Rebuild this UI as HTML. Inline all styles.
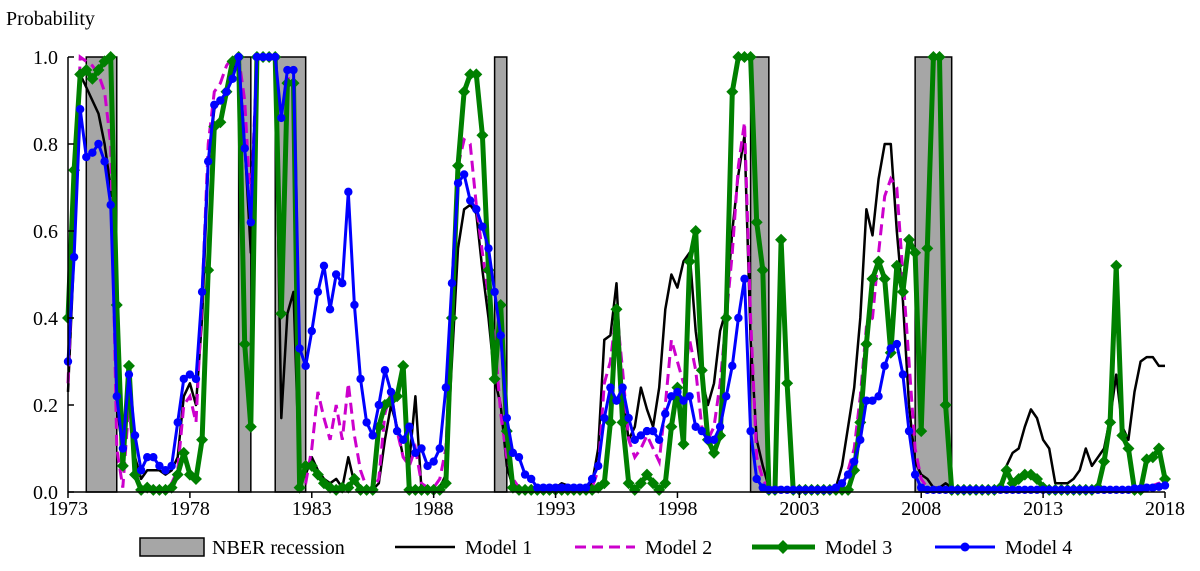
<!DOCTYPE html>
<html><head><meta charset="utf-8">
<style>
body{margin:0;background:#fff;}
svg text{font-family:"Liberation Serif",serif;fill:#000;}
</style></head>
<body>
<svg id="chart" width="1200" height="566" viewBox="0 0 1200 566" xmlns="http://www.w3.org/2000/svg">
<text x="6" y="25" font-size="20">Probability</text>
<g id="bars"></g><g id="grid"></g><g id="series"></g><g id="axes"></g>
<g id="legend">
  <rect x="140" y="538" width="64" height="18" fill="#a6a6a6" stroke="#000" stroke-width="1.5"/>
  <text x="212" y="554" font-size="20">NBER recession</text>
  <line x1="395" y1="547" x2="455" y2="547" stroke="#000" stroke-width="2.5"/>
  <text x="465" y="554" font-size="20">Model 1</text>
  <line x1="575" y1="547" x2="635" y2="547" stroke="#cc00cc" stroke-width="3" stroke-dasharray="11,6"/>
  <text x="645" y="554" font-size="20">Model 2</text>
  <line x1="752" y1="547" x2="815" y2="547" stroke="#008000" stroke-width="5"/>
  <polygon points="783,540 790,547 783,554 776,547" fill="#008000"/>
  <text x="825" y="554" font-size="20">Model 3</text>
  <line x1="935" y1="547" x2="995" y2="547" stroke="#0000ff" stroke-width="3"/>
  <circle cx="965" cy="547" r="4.5" fill="#0000ff"/>
  <text x="1005" y="554" font-size="20">Model 4</text>
</g>
</svg>
<script>
const startYear = 1973;
const xTickLabels = ["1973","1978","1983","1988","1993","1998","2003","2008","2013","2018"];
const yTickLabels = ["0.0","0.2","0.4","0.6","0.8","1.0"];
const recessionStarts = [1973.75,1980.0,1981.5,1990.5,2001.0,2007.75];
const recessionEnds   = [1975.0,1980.5,1982.75,1991.0,2001.75,2009.25];
const model1 = [
0.23,0.55,0.96,0.93, 0.90,0.87,0.80,0.70, 0.20,0.09,0.22,0.08, 0.03,0.05,0.05,0.05,
0.04,0.05,0.08,0.22, 0.25,0.20,0.40,0.75, 0.88,0.90,0.92,0.96, 1.0,0.80,0.55,1.0,
1.0,1.0,1.0,0.17, 0.41,0.46,0.03,0.04, 0.08,0.05,0.03,0.02, 0.03,0.01,0.08,0.02,
0.005,0.005,0.005,0.02, 0.12,0.20,0.15,0.08, 0.07,0.22,0.005,0.005, 0.005,0.01,0.04,0.30,
0.56,0.65,0.66,0.64, 0.51,0.40,0.26,0.20, 0.06,0.01,0.005,0.005, 0.005,0.005,0.005,0.005,
0.01,0.02,0.015,0.01, 0.01,0.01,0.02,0.10, 0.35,0.36,0.48,0.22, 0.12,0.15,0.24,0.19,
0.15,0.24,0.42,0.50, 0.47,0.53,0.55,0.37, 0.26,0.20,0.25,0.37, 0.42,0.60,0.73,0.82,
0.35,0.12,0.06,0.01, 0.01,0.01,0.005,0.005, 0.005,0.005,0.005,0.005, 0.005,0.005,0.01,0.06,
0.15,0.24,0.40,0.65, 0.59,0.72,0.80,0.80, 0.60,0.44,0.20,0.07, 0.04,0.03,0.01,0.01,
0.02,0.01,0.005,0.005, 0.005,0.005,0.01,0.005, 0.005,0.01,0.06,0.09, 0.10,0.15,0.19,0.17,
0.12,0.10,0.02,0.02, 0.02,0.03,0.05,0.10, 0.06,0.08,0.10,0.17, 0.27,0.15,0.12,0.23,
0.30,0.31,0.31,0.29, 0.29];
const model2 = [
0.25,0.60,1.0,0.99, 0.98,0.96,0.92,0.80, 0.10,0.01,0.20,0.05, 0.005,0.01,0.01,0.01,
0.005,0.02,0.05,0.20, 0.22,0.16,0.45,0.80, 0.92,0.94,0.98,1.0, 1.0,0.90,0.65,1.0,
1.0,1.0,1.0,0.50, 0.95,0.95,0.02,0.02, 0.10,0.23,0.17,0.12, 0.20,0.12,0.25,0.13,
0.05,0.01,0.005,0.03, 0.18,0.23,0.14,0.08, 0.06,0.10,0.02,0.01, 0.01,0.03,0.10,0.40,
0.75,0.81,0.80,0.66, 0.55,0.45,0.35,0.18, 0.08,0.03,0.01,0.005, 0.005,0.005,0.005,0.005,
0.005,0.005,0.005,0.005, 0.005,0.005,0.01,0.05, 0.25,0.30,0.42,0.28, 0.12,0.08,0.10,0.13,
0.10,0.07,0.20,0.35, 0.30,0.25,0.35,0.28, 0.15,0.12,0.15,0.25, 0.40,0.55,0.75,0.85,
0.40,0.08,0.03,0.005, 0.005,0.005,0.005,0.005, 0.005,0.005,0.005,0.005, 0.005,0.005,0.005,0.01,
0.05,0.10,0.22,0.38, 0.40,0.55,0.68,0.72, 0.70,0.50,0.30,0.10, 0.03,0.01,0.005,0.005,
0.005,0.005,0.005,0.005, 0.005,0.005,0.005,0.005, 0.005,0.005,0.005,0.005, 0.005,0.005,0.005,0.005,
0.005,0.005,0.005,0.005, 0.005,0.005,0.005,0.005, 0.005,0.005,0.005,0.005, 0.005,0.005,0.005,0.01,
0.01,0.01,0.015,0.02, 0.02];
const model3 = [
0.40,0.74,0.96,0.97, 0.95,0.97,0.99,1.0, 0.43,0.06,0.29,0.04, 0.005,0.01,0.005,0.005,
0.005,0.01,0.04,0.09, 0.04,0.03,0.12,0.51, 0.84,0.85,0.92,0.99, 1.0,0.34,0.15,1.0,
1.0,1.0,1.0,0.41, 0.94,0.94,0.01,0.06, 0.06,0.04,0.02,0.01, 0.005,0.01,0.01,0.03,
0.005,0.005,0.005,0.15, 0.20,0.21,0.22,0.29, 0.005,0.005,0.005,0.005, 0.005,0.005,0.02,0.40,
0.75,0.92,0.96,0.96, 0.82,0.51,0.26,0.43, 0.14,0.01,0.005,0.005, 0.005,0.005,0.005,0.005,
0.005,0.005,0.005,0.005, 0.005,0.005,0.005,0.01, 0.02,0.16,0.42,0.16, 0.02,0.005,0.02,0.04,
0.02,0.005,0.02,0.15, 0.24,0.11,0.53,0.60, 0.28,0.12,0.09,0.13, 0.40,0.92,1.0,1.0,
1.0,0.62,0.51,0.005, 0.005,0.58,0.25,0.005, 0.005,0.005,0.005,0.005, 0.005,0.005,0.005,0.005,
0.005,0.05,0.16,0.34, 0.49,0.53,0.49,0.32, 0.52,0.46,0.58,0.55, 0.14,0.56,1.0,1.0,
0.20,0.005,0.005,0.005, 0.005,0.005,0.005,0.005, 0.005,0.01,0.05,0.02, 0.03,0.04,0.04,0.03,
0.01,0.005,0.005,0.005, 0.005,0.005,0.005,0.005, 0.005,0.01,0.07,0.16, 0.52,0.13,0.10,0.005,
0.005,0.075,0.08,0.10, 0.03];
const model4 = [
0.30,0.54,0.88,0.77, 0.78,0.80,0.76,0.66, 0.22,0.10,0.27,0.13, 0.05,0.08,0.08,0.06,
0.05,0.06,0.16,0.26, 0.27,0.26,0.46,0.76, 0.89,0.90,0.92,0.95, 1.0,0.79,0.62,1.0,
1.0,1.0,1.0,0.86, 0.97,0.97,0.33,0.29, 0.37,0.46,0.52,0.42, 0.50,0.48,0.69,0.43,
0.26,0.16,0.13,0.20, 0.28,0.23,0.14,0.12, 0.15,0.09,0.10,0.06, 0.07,0.10,0.24,0.48,
0.71,0.73,0.67,0.65, 0.61,0.56,0.46,0.36, 0.17,0.09,0.08,0.04, 0.03,0.01,0.01,0.01,
0.01,0.01,0.01,0.01, 0.01,0.01,0.03,0.06, 0.17,0.24,0.21,0.24, 0.17,0.12,0.13,0.14,
0.14,0.12,0.18,0.22, 0.23,0.21,0.22,0.15, 0.14,0.12,0.12,0.15, 0.22,0.29,0.40,0.49,
0.14,0.03,0.01,0.005, 0.005,0.005,0.005,0.005, 0.005,0.005,0.005,0.005, 0.005,0.005,0.01,0.02,
0.04,0.07,0.12,0.21, 0.21,0.22,0.29,0.33, 0.34,0.27,0.14,0.04, 0.01,0.005,0.005,0.005,
0.005,0.005,0.005,0.005, 0.005,0.005,0.005,0.005, 0.005,0.005,0.005,0.005, 0.005,0.005,0.005,0.005,
0.005,0.005,0.005,0.005, 0.005,0.005,0.005,0.005, 0.005,0.005,0.005,0.005, 0.005,0.005,0.005,0.008,
0.008,0.01,0.01,0.012, 0.015];

const NS = "http://www.w3.org/2000/svg";
const X0 = 68, X1 = 1165, Y0 = 492, Y1 = 57;
function xScale(t){ return X0 + (t - 1973) / 45 * (X1 - X0); }
function yScale(v){ return Y0 - v * (Y0 - Y1); }
function mk(tag, attrs, parent){ const e = document.createElementNS(NS, tag); for (const k in attrs) e.setAttribute(k, attrs[k]); parent.appendChild(e); return e; }

const bars = document.getElementById('bars');
recessionStarts.forEach((s, i) => {
  const r = mk('rect', {x: xScale(s), y: Y1, width: xScale(recessionEnds[i]) - xScale(s), height: Y0 - Y1, fill: '#a6a6a6', stroke: '#000', 'stroke-width': 1.5}, bars);
  
  
});

const axes = document.getElementById('axes');
const yAxis = mk('line', {x1: X0, y1: Y1, x2: X0, y2: Y0, stroke: '#000', 'stroke-width': 1.5}, axes);


const xAxis = mk('line', {x1: X0, y1: Y0, x2: X1, y2: Y0, stroke: '#000', 'stroke-width': 1.5}, axes);


yTickLabels.forEach(lab => {
  const y = yScale(parseFloat(lab));
  const tk = mk('line', {x1: X0, y1: y, x2: X0 + 6, y2: y, stroke: '#000', 'stroke-width': 1.5}, axes);
  
  
  const t = mk('text', {x: 58, y: y + 7, 'font-size': 20, 'text-anchor': 'end'}, axes);
  t.textContent = lab;
  
  
});
xTickLabels.forEach(lab => {
  const x = xScale(parseFloat(lab));
  const tk = mk('line', {x1: x, y1: Y0, x2: x, y2: Y0 + 6, stroke: '#000', 'stroke-width': 1.5}, axes);
  
  
  const t = mk('text', {x: x, y: 515, 'font-size': 20, 'text-anchor': 'middle'}, axes);
  t.textContent = lab;
  
  
});

const series = document.getElementById('series');
function pts(arr){ return arr.map((v, i) => xScale(startYear + i / 4).toFixed(1) + ',' + yScale(v).toFixed(1)).join(' '); }
const l1 = mk('polyline', {points: pts(model1), fill: 'none', stroke: '#000', 'stroke-width': 2.5, 'stroke-linejoin': 'round'}, series);


const l2 = mk('polyline', {points: pts(model2), fill: 'none', stroke: '#cc00cc', 'stroke-width': 3, 'stroke-dasharray': '11,6'}, series);


const l3 = mk('polyline', {points: pts(model3), fill: 'none', stroke: '#008000', 'stroke-width': 5, 'stroke-linejoin': 'round'}, series);


model3.forEach((v, i) => {
  const x = xScale(startYear + i / 4), y = yScale(v);
  const d = mk('polygon', {points: `${x},${y-6} ${x+6},${y} ${x},${y+6} ${x-6},${y}`, fill: '#008000'}, series);
  
  
});
const l4 = mk('polyline', {points: pts(model4), fill: 'none', stroke: '#0000ff', 'stroke-width': 3, 'stroke-linejoin': 'round'}, series);


model4.forEach((v, i) => {
  const c = mk('circle', {cx: xScale(startYear + i / 4), cy: yScale(v), r: 4.2, fill: '#0000ff'}, series);
  
  
});
</script>
</body></html>
